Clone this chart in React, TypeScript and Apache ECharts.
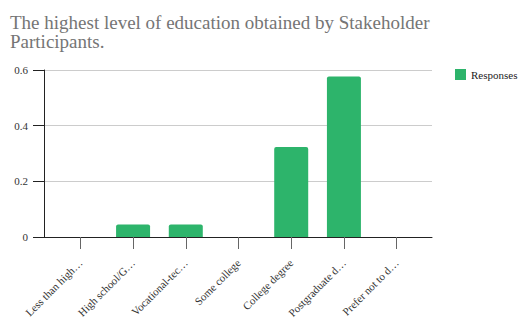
import React, { useEffect, useRef } from "react";
import * as echarts from "echarts";

const titleLines = [
  "The highest level of education obtained by Stakeholder",
  "Participants.",
];
const categories = [
  "Less than high…",
  "High school/G…",
  "Vocational-tec…",
  "Some college",
  "College degree",
  "Postgraduate d…",
  "Prefer not to d…",
];
const responses = [0, 0.045, 0.045, 0, 0.323, 0.577, 0];
const seriesName = "Responses";
const yTicks = { min: 0, max: 0.6, interval: 0.2 };

const FONT = "Liberation Serif";
const GREEN = "#2db46b";

export default function App() {
  const ref = useRef<HTMLDivElement>(null);
  useEffect(() => {
    if (!ref.current) return;
    const chart = echarts.init(ref.current, undefined, { renderer: "svg" });
    const titleStyle = {
      fontFamily: FONT,
      fontSize: 19,
      fontWeight: "normal",
      color: "#757575",
      lineHeight: 17,
    };
    const legendText = {
      fontFamily: "serif",
      fontSize: 11,
      fontWeight: "normal",
      color: "#222",
    };
    chart.setOption({
      animation: false,
      textStyle: { fontFamily: FONT },
      title: [
        { text: titleLines[0], left: 10, top: 14, padding: 0, textStyle: titleStyle },
        { text: titleLines[1], left: 10, top: 33, padding: 0, textStyle: titleStyle },
      ],
      legend: {
        data: [{ name: seriesName, textStyle: legendText }],
        left: 450,
        top: 64,
        itemWidth: 11,
        itemHeight: 11,
        itemGap: 6,
        icon: "rect",
        textStyle: legendText,
      },
      grid: [
        { left: 44, right: 87, top: 70, bottom: 86 },
        { left: 54, right: 96, top: 70, bottom: 86 },
      ],
      xAxis: [
        {
          type: "value",
          gridIndex: 0,
          min: 0,
          max: 1,
          axisLine: { show: true, lineStyle: { color: "#222", width: 1 } },
          axisTick: { show: false },
          axisLabel: { show: false },
          splitLine: { show: false },
        },
        {
          type: "category",
          gridIndex: 1,
          data: categories,
          axisLine: { show: false },
          axisTick: {
            show: true,
            alignWithLabel: true,
            length: 12,
            lineStyle: { color: "#666" },
          },
          axisLabel: {
            rotate: 45,
            interval: 0,
            margin: 24,
            fontFamily: FONT,
            fontSize: 11,
            color: "#333",
          },
        },
      ],
      yAxis: [
        {
          type: "value",
          gridIndex: 0,
          min: yTicks.min,
          max: yTicks.max,
          interval: yTicks.interval,
          axisLine: { show: true, lineStyle: { color: "#222" } },
          axisTick: { show: true, length: 11, lineStyle: { color: "#222" } },
          axisLabel: {
            fontFamily: FONT,
            fontSize: 11,
            color: "#333",
            margin: 16,
            formatter: (v: number) => (v === 0 ? "0" : String(v)),
          },
          splitLine: { show: true, lineStyle: { color: "#ccc" } },
        },
        {
          type: "value",
          gridIndex: 1,
          min: yTicks.min,
          max: yTicks.max,
          interval: yTicks.interval,
          show: false,
          splitLine: { show: false },
        },
      ],
      series: [
        {
          name: seriesName,
          type: "bar",
          xAxisIndex: 1,
          yAxisIndex: 1,
          data: responses,
          barWidth: 34,
          itemStyle: { color: GREEN, borderRadius: [2, 2, 0, 0] },
        },
      ],
    });
    return () => chart.dispose();
  }, []);
  return (
    <div
      ref={ref}
      style={{ width: 519, height: 323, position: "absolute", left: 0, top: 0 }}
    />
  );
}
